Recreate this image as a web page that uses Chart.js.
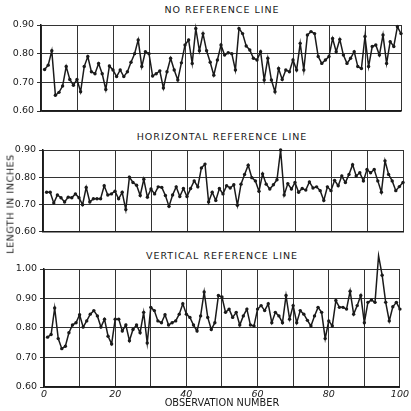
<!DOCTYPE html>
<html>
<head>
<meta charset="utf-8">
<script src="https://cdn.jsdelivr.net/npm/chart.js@4.4.1/dist/chart.umd.min.js"></script>
<style>
  body { margin: 0; background: #fff; width: 411px; height: 411px; position: relative; overflow: hidden;
         font-family: "DejaVu Sans", sans-serif; color: #1a1a1a; }
  canvas { position: absolute; left: 0; }
  .ttl { position: absolute; left: 41px; width: 362px; text-align: center; font-size: 9.5px;
         letter-spacing: 1px; line-height: 12px; }
  #ylab { position: absolute; left: 10px; top: 204px; font-size: 9.5px; letter-spacing: 0.6px;
          white-space: nowrap; transform: translate(-50%, -50%) rotate(-90deg); }
</style>
</head>
<body>
<div class="ttl" style="top:4px">NO REFERENCE LINE</div>
<canvas id="p1" width="411" height="120" style="top:0"></canvas>
<div class="ttl" style="top:131px">HORIZONTAL REFERENCE LINE</div>
<canvas id="p2" width="411" height="120" style="top:120px"></canvas>
<div class="ttl" style="top:250px">VERTICAL REFERENCE LINE</div>
<canvas id="p3" width="411" height="171" style="top:240px"></canvas>
<div id="ylab">LENGTH IN INCHES</div>
<script>
const noRefLine = [
  0.745, 0.76, 0.81, 0.655, 0.665, 0.687, 0.755, 0.71, 0.69, 0.71,
  0.667, 0.755, 0.79, 0.737, 0.73, 0.766, 0.73, 0.675, 0.757, 0.743,
  0.72, 0.743, 0.72, 0.737, 0.77, 0.80, 0.848, 0.755, 0.807, 0.80,
  0.722, 0.73, 0.74, 0.68, 0.737, 0.784, 0.743, 0.708, 0.768, 0.83,
  0.848, 0.766, 0.888, 0.81, 0.87, 0.81, 0.77, 0.725, 0.778, 0.83,
  0.795, 0.803, 0.80, 0.743, 0.888, 0.87, 0.827, 0.813, 0.784, 0.778,
  0.807, 0.708, 0.784, 0.708, 0.667, 0.748, 0.71, 0.743, 0.737, 0.778,
  0.743, 0.836, 0.743, 0.865, 0.877, 0.87, 0.79, 0.766, 0.778, 0.79,
  0.853, 0.807, 0.85, 0.795, 0.766, 0.784, 0.807, 0.755, 0.748, 0.86,
  0.755, 0.825, 0.83, 0.795, 0.865, 0.766, 0.842, 0.825, 0.894, 0.87
];
const horizontalRefLine = [
  0.744, 0.744, 0.704, 0.734, 0.724, 0.708, 0.726, 0.724, 0.738, 0.724,
  0.698, 0.762, 0.708, 0.72, 0.72, 0.72, 0.768, 0.734, 0.738, 0.748,
  0.72, 0.744, 0.68, 0.80, 0.78, 0.77, 0.732, 0.792, 0.726, 0.756,
  0.738, 0.764, 0.762, 0.732, 0.692, 0.734, 0.764, 0.728, 0.758, 0.728,
  0.758, 0.786, 0.764, 0.834, 0.848, 0.708, 0.744, 0.714, 0.758, 0.738,
  0.768, 0.76, 0.772, 0.696, 0.774, 0.81, 0.844, 0.798, 0.786, 0.748,
  0.812, 0.774, 0.756, 0.772, 0.79, 0.90, 0.734, 0.776, 0.756, 0.78,
  0.744, 0.758, 0.752, 0.782, 0.76, 0.764, 0.75, 0.714, 0.764, 0.75,
  0.788, 0.768, 0.804, 0.78, 0.81, 0.846, 0.804, 0.816, 0.786, 0.828,
  0.816, 0.828, 0.786, 0.744, 0.86, 0.81, 0.786, 0.75, 0.765, 0.78
];
const verticalRefLine = [
  0.769, 0.778, 0.868, 0.764, 0.73, 0.738, 0.784, 0.81, 0.818, 0.845,
  0.803, 0.824, 0.847, 0.859, 0.841, 0.803, 0.83, 0.772, 0.746, 0.83,
  0.83, 0.79, 0.81, 0.757, 0.795, 0.81, 0.784, 0.853, 0.749, 0.87,
  0.859, 0.824, 0.818, 0.845, 0.81, 0.818, 0.824, 0.847, 0.882, 0.847,
  0.836, 0.81, 0.79, 0.841, 0.922, 0.836, 0.795, 0.818, 0.91, 0.905,
  0.853, 0.864, 0.836, 0.853, 0.81, 0.841, 0.864, 0.81, 0.807, 0.864,
  0.876, 0.859, 0.882, 0.818, 0.853, 0.841, 0.818, 0.91, 0.83, 0.876,
  0.818, 0.859, 0.847, 0.826, 0.807, 0.841, 0.87, 0.853, 0.764, 0.824,
  0.807, 0.893, 0.87, 0.87, 0.864, 0.925, 0.847, 0.876, 0.91, 0.818,
  0.887, 0.895, 0.887, 1.045, 0.979, 0.887, 0.824, 0.872, 0.887, 0.864
];
const xTickLabels = [0, 20, 40, 60, 80, 100];

const ink = '#1a1a1a';
const tickFont = { family: 'DejaVu Sans', size: 9.5 };

function makePanel(id, values, yMax, pad, axisWidth, showX) {
  const points = values.map((v, i) => ({ x: i + 1, y: v }));
  return new Chart(document.getElementById(id), {
    type: 'line',
    data: {
      datasets: [{
        data: points,
        borderColor: ink,
        borderWidth: 1.5,
        pointRadius: 1.7,
        pointBackgroundColor: ink,
        pointBorderWidth: 0,
        tension: 0,
        clip: false
      }]
    },
    options: {
      responsive: false,
      animation: false,
      layout: { padding: pad },
      plugins: { legend: { display: false }, tooltip: { enabled: false } },
      scales: {
        x: {
          type: 'linear',
          min: 0,
          max: 100,
          afterBuildTicks: s => { s.ticks = Array.from({ length: 11 }, (_, k) => ({ value: k * 10 })); },
          ticks: {
            display: showX,
            autoSkip: false,
            maxRotation: 0,
            padding: 2,
            color: ink,
            font: { family: 'DejaVu Sans', size: 9.5, style: 'italic' },
            callback: v => xTickLabels.includes(v) ? String(v) : ''
          },
          grid: { color: '#333', lineWidth: 1, drawTicks: false },
          border: { color: ink, width: 1.5 },
          title: {
            display: showX,
            text: 'OBSERVATION NUMBER',
            color: ink,
            font: { family: 'DejaVu Sans', size: 9.8 },
            padding: { top: 0, bottom: 0 }
          },
          afterFit: s => { s.height = showX ? 22 : 0; }
        },
        y: {
          min: 0.6,
          max: yMax,
          ticks: {
            stepSize: 0.1,
            padding: 3,
            color: ink,
            font: tickFont,
            callback: v => v.toFixed(2)
          },
          grid: { color: '#333', lineWidth: 1, tickLength: 4 },
          border: { color: ink, width: 1.5 },
          afterFit: s => { s.width = axisWidth; }
        }
      }
    }
  });
}

makePanel('p1', noRefLine, 0.9, { top: 25, bottom: 9, left: 0, right: 10 }, 41, false);
makePanel('p2', horizontalRefLine, 0.9, { top: 30, bottom: 7, left: 0, right: 8 }, 43, false);
makePanel('p3', verticalRefLine, 1.0, { top: 29, bottom: 2, left: 0, right: 8 }, 44, true);
</script>
</body>
</html>
